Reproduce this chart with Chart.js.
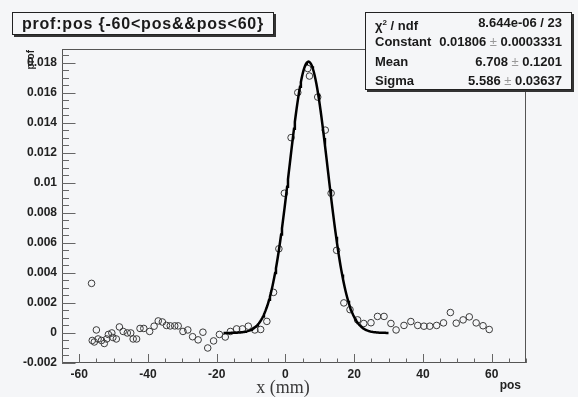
<!DOCTYPE html>
<html><head><meta charset="utf-8">
<script src="https://cdn.jsdelivr.net/npm/chart.js@4/dist/chart.umd.min.js"></script>
<style>
html,body{margin:0;padding:0;background:#f5f6f8;}
#wrap{position:relative;width:578px;height:397px;overflow:hidden;}
canvas{position:absolute;left:0;top:0;}
.box{position:absolute;background:#f5f6f8;border:1px solid #222;box-shadow:2px 2px 0 #333;font-family:"Liberation Sans",Arial,sans-serif;font-weight:bold;color:#1a1a1a;box-sizing:border-box;}
#title{left:12px;top:12px;width:262px;height:23px;font-size:16px;letter-spacing:0.8px;line-height:21px;text-align:center;}
#stats{left:365px;top:12px;width:207px;height:78px;font-size:13px;padding:0px 9px 0 9px;}
#stats .row{display:flex;justify-content:space-between;height:19.3px;line-height:19.3px;}
.pm{color:#999;font-weight:normal;}
</style></head><body>
<div id="wrap">
<canvas id="c" width="578" height="397"></canvas>
<div class="box" id="title">prof:pos {-60&lt;pos&amp;&amp;pos&lt;60}</div>
<div class="box" id="stats">
 <div class="row"><span>&chi;<sup style="font-size:8px">2</sup> / ndf</span><span>8.644e-06 / 23</span></div>
 <div class="row"><span>Constant</span><span>0.01806 <span class="pm">&plusmn;</span> 0.0003331</span></div>
 <div class="row"><span>Mean</span><span>6.708 <span class="pm">&plusmn;</span> 0.1201</span></div>
 <div class="row"><span>Sigma</span><span>5.586 <span class="pm">&plusmn;</span> 0.03637</span></div>
</div>
</div>
<script>
// ---- data ----
const posValues = [
 -56.4,-56.2,-55.6,-55.0,-54.5,-53.5,-52.7,-52.0,-51.5,-50.5,-50.2,-49.2,-48.3,-47.2,-46.0,-45.0,-44.3,-43.3,
 -42.3,-41.2,-39.5,-38.2,-37.0,-35.8,-34.6,-33.5,-32.2,-31.2,-29.8,-28.4,-27.0,-25.4,-24.0,-22.6,-20.9,-19.2,
 -17.5,-16.0,-14.2,-12.5,-10.8,-8.9,-7.2,-5.4,-3.45,-1.9,-0.3,1.65,3.6,6.5,7.0,9.4,11.6,13.3,14.9,17.0,18.8,
 21.0,22.8,24.9,26.8,28.7,30.7,32.2,34.5,36.5,38.5,40.3,42.0,44.0,46.0,48.0,49.7,51.7,53.5,55.5,57.5,59.3
];
const profValues = [
 0.0033,-0.0005,-0.0006,0.0002,-0.0004,-0.0005,-0.0007,-0.0004,-0.0001,0.0000,-0.0003,-0.0004,0.0004,0.0001,0.0000,0.0000,-0.0004,-0.0004,
 0.0003,0.0003,0.0001,0.00045,0.0008,0.00073,0.0005,0.00047,0.00047,0.00047,0.0001,0.0002,-0.00025,-0.00046,0.00005,-0.001,-0.00053,-0.0001,
 -0.00027,0.0001,0.00027,0.00027,0.00045,0.0002,0.00023,0.00077,0.0027,0.0056,0.0093,0.0130,0.0160,0.0176,0.0171,0.0157,0.0135,0.0093,0.0055,0.0020,0.00155,
 0.00087,0.00063,0.00068,0.0011,0.0011,0.00063,0.0002,0.0005,0.00076,0.0005,0.00045,0.00045,0.0005,0.00067,0.00136,0.00065,0.00087,0.00107,0.00067,0.00048,0.00023
];
// fit parameters (from the stats box) and drawn fit range
const fitConstant = 0.01806;
const fitMean = 6.708;
const fitSigma = 5.586;
const fitRange = [-18, 30];
// tick labels
const xTickLabels = [-60,-40,-20,0,20,40,60];
const yTickLabels = [-0.002,0,0.002,0.004,0.006,0.008,0.01,0.012,0.014,0.016,0.018];

const pts = posValues.map((x,i)=>({x:x,y:profValues[i]}));
const fitPts = [];
for (let x = fitRange[0]; x <= fitRange[1] + 1e-9; x += 0.25) {
  fitPts.push({x:x, y: fitConstant*Math.exp(-0.5*Math.pow((x-fitMean)/fitSigma,2))});
}

const FONT = '"Liberation Sans", Arial, sans-serif';

const framePlugin = {
  id:'frame',
  afterDraw(chart){
    const ctx = chart.ctx, a = chart.chartArea;
    const xs = chart.scales.x, ys = chart.scales.y;
    ctx.save();
    ctx.strokeStyle = '#555'; ctx.lineWidth = 1;
    ctx.strokeRect(Math.round(a.left)+0.5, Math.round(a.top)+0.5, Math.round(a.right-a.left)-1, Math.round(a.bottom-a.top)-1);
    ctx.strokeStyle = '#666';
    ctx.beginPath();
    for (let v = -65; v <= 70 + 1e-9; v += 5) {
      const px = Math.round(xs.getPixelForValue(v)) + 0.5;
      const len = (v % 20 === 0) ? 9 : 4.5;
      ctx.moveTo(px, a.bottom); ctx.lineTo(px, a.bottom - len);
    }
    for (let k = -4; k <= 37; k++) {
      const v = k * 0.0005;
      if (v > ys.max) break;
      const py = Math.round(ys.getPixelForValue(v)) + 0.5;
      const len = (k % 4 === 0) ? 13.5 : 7;
      ctx.moveTo(a.left, py); ctx.lineTo(a.left + len, py);
    }
    ctx.stroke();
    ctx.fillStyle = '#3a3a3a';
    ctx.font = '18px "Liberation Serif", "Times New Roman", serif';
    ctx.textAlign = 'center'; ctx.textBaseline = 'middle';
    ctx.fillText('x (mm)', 283, 388);
    ctx.fillStyle = '#222';
    ctx.font = 'bold 12px ' + FONT;
    ctx.textAlign = 'right';
    ctx.fillText('pos', 521, 386);
    ctx.save();
    ctx.translate(31, 50);
    ctx.rotate(-Math.PI/2);
    ctx.font = 'bold 10px ' + FONT;
    ctx.textAlign = 'right'; ctx.textBaseline = 'middle';
    ctx.fillText('prof', 0, 0);
    ctx.restore();
    ctx.restore();
  }
};

new Chart(document.getElementById('c'), {
  type:'scatter',
  data:{datasets:[
    {label:'fit', data:fitPts, showLine:true, pointRadius:0, borderColor:'#000', borderWidth:2.5, tension:0, order:0},
    {label:'prof', data:pts, showLine:false, pointStyle:'circle', pointRadius:3.3, pointBorderWidth:1,
     pointBorderColor:'#3a3a3a', pointBackgroundColor:'rgba(0,0,0,0)', order:1}
  ]},
  options:{
    responsive:false, animation:false, devicePixelRatio:1,
    layout:{padding:{left:0,top:49,right:52,bottom:0}},
    plugins:{legend:{display:false}, tooltip:{enabled:false}},
    scales:{
      x:{type:'linear', min:-65, max:70,
         grid:{display:false, drawTicks:false}, border:{display:false},
         afterBuildTicks(s){ s.ticks = xTickLabels.map(v=>({value:v})); },
         afterFit(s){ s.height = 34; },
         ticks:{padding:4, color:'#222', font:{family:FONT, size:12, weight:'bold'}, maxRotation:0, autoSkip:false,
                callback:v=>String(v)}},
      y:{type:'linear', min:-0.002, max:0.0189,
         grid:{display:false, drawTicks:false}, border:{display:false},
         afterBuildTicks(s){ s.ticks = yTickLabels.map(v=>({value:v})); },
         afterFit(s){ s.width = 62; },
         ticks:{padding:5, color:'#222', font:{family:FONT, size:12, weight:'bold'}, autoSkip:false,
                callback:v=>String(Number(v.toFixed(4)))}}
    }
  },
  plugins:[framePlugin]
});
</script>
</body></html>
